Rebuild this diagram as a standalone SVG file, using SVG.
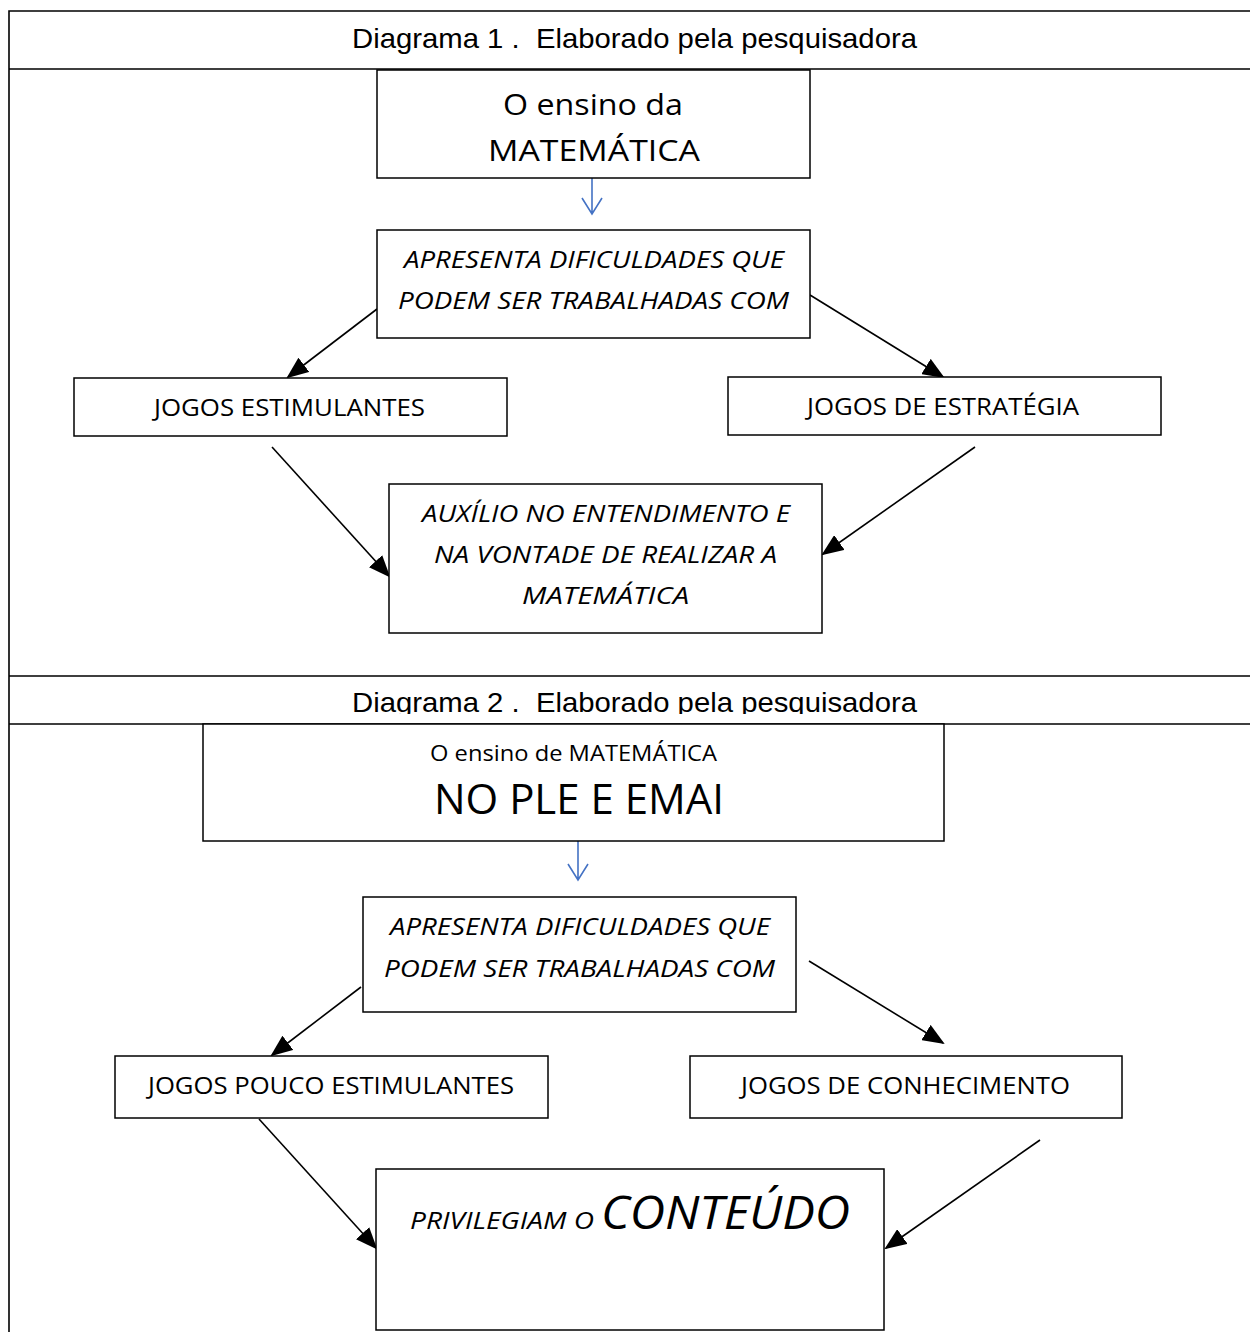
<svg xmlns="http://www.w3.org/2000/svg" width="1250" height="1332" viewBox="0 0 1250 1332">
<style>
.frame{stroke:#000;stroke-width:1.6;fill:none}
.box{fill:#fff;stroke:#000;stroke-width:1.5}
.t{font-family:"Open Sans","Liberation Sans",sans-serif;fill:#000}
.it{font-style:italic}
.title{font-family:"Liberation Sans",Arial,sans-serif;font-size:28px;fill:#000;white-space:pre}
.conn{stroke:#000;stroke-width:1.6;fill:none;marker-end:url(#ah)}
.blue{stroke:#4472C4;stroke-width:1.6;fill:none}
</style>
<defs>
<marker id="ah" markerUnits="userSpaceOnUse" markerWidth="22" markerHeight="18" viewBox="0 0 22 18" refX="20" refY="9" orient="auto">
<path d="M0,0 L22,9 L0,18 Z" fill="#000"/>
</marker>
<clipPath id="clipT2"><rect x="0" y="677" width="1250" height="37"/></clipPath>
</defs>
<rect width="1250" height="1332" fill="#fff"/>
<g id="frame">
<path class="frame" d="M9,1332 V11 H1250 M9,69 H1250 M9,676 H1250 M9,724 H1250"/>
<text class="title" xml:space="preserve" x="352" y="48" textLength="565" lengthAdjust="spacingAndGlyphs">Diagrama 1 .  Elaborado pela pesquisadora</text>
<text class="title" xml:space="preserve" x="352" y="712" textLength="565" lengthAdjust="spacingAndGlyphs" clip-path="url(#clipT2)">Diagrama 2 .  Elaborado pela pesquisadora</text>
</g>
<g id="connectors">
<path class="blue" d="M592,178 V214 M582,198 L592,214 L602,198"/>
<path class="blue" d="M578,841 V880 M568,864 L578,880 L588,864"/>
<line class="conn" x1="377" y1="309" x2="288" y2="377"/>
<line class="conn" x1="810" y1="295" x2="943" y2="377"/>
<line class="conn" x1="272" y1="447" x2="389" y2="576"/>
<line class="conn" x1="975" y1="447" x2="823" y2="554"/>
<line class="conn" x1="361" y1="987" x2="272" y2="1055"/>
<line class="conn" x1="809" y1="961" x2="943" y2="1043"/>
<line class="conn" x1="259" y1="1119" x2="376" y2="1248"/>
<line class="conn" x1="1040" y1="1140" x2="886" y2="1248"/>
</g>
<g id="n1">
<rect class="box" x="377" y="70" width="433" height="108"/>
<text class="t" font-size="30" x="503" y="115" textLength="180" lengthAdjust="spacingAndGlyphs">O ensino da</text>
<text class="t" font-size="30" x="488" y="161" textLength="212" lengthAdjust="spacingAndGlyphs">MATEMÁTICA</text>
</g>
<g id="n2">
<rect class="box" x="377" y="230" width="433" height="108"/>
<text class="t it" font-size="24" x="404" y="268" textLength="380" lengthAdjust="spacingAndGlyphs">APRESENTA DIFICULDADES QUE</text>
<text class="t it" font-size="24" x="398" y="309" textLength="391" lengthAdjust="spacingAndGlyphs">PODEM SER TRABALHADAS COM</text>
</g>
<g id="n3">
<rect class="box" x="74" y="378" width="433" height="58"/>
<text class="t" font-size="23" x="154" y="416" textLength="271" lengthAdjust="spacingAndGlyphs">JOGOS ESTIMULANTES</text>
</g>
<g id="n4">
<rect class="box" x="728" y="377" width="433" height="58"/>
<text class="t" font-size="23" x="807" y="415" textLength="272" lengthAdjust="spacingAndGlyphs">JOGOS DE ESTRATÉGIA</text>
</g>
<g id="n5">
<rect class="box" x="389" y="484" width="433" height="149"/>
<text class="t it" font-size="24" x="422" y="522" textLength="368" lengthAdjust="spacingAndGlyphs">AUXÍLIO NO ENTENDIMENTO E</text>
<text class="t it" font-size="24" x="434" y="563" textLength="343" lengthAdjust="spacingAndGlyphs">NA VONTADE DE REALIZAR A</text>
<text class="t it" font-size="24" x="522" y="604" textLength="167" lengthAdjust="spacingAndGlyphs">MATEMÁTICA</text>
</g>
<g id="n6">
<rect class="box" x="203" y="724" width="741" height="117"/>
<text class="t" font-size="22" x="430" y="761" textLength="287" lengthAdjust="spacingAndGlyphs">O ensino de MATEMÁTICA</text>
<text class="t" font-size="42" x="434" y="814" textLength="290" lengthAdjust="spacingAndGlyphs">NO PLE E EMAI</text>
</g>
<g id="n7">
<rect class="box" x="363" y="897" width="433" height="115"/>
<text class="t it" font-size="24" x="390" y="935" textLength="380" lengthAdjust="spacingAndGlyphs">APRESENTA DIFICULDADES QUE</text>
<text class="t it" font-size="24" x="384" y="977" textLength="391" lengthAdjust="spacingAndGlyphs">PODEM SER TRABALHADAS COM</text>
</g>
<g id="n8">
<rect class="box" x="115" y="1056" width="433" height="62"/>
<text class="t" font-size="23" x="148" y="1094" textLength="366" lengthAdjust="spacingAndGlyphs">JOGOS POUCO ESTIMULANTES</text>
</g>
<g id="n9">
<rect class="box" x="690" y="1056" width="432" height="62"/>
<text class="t" font-size="23" x="741" y="1094" textLength="329" lengthAdjust="spacingAndGlyphs">JOGOS DE CONHECIMENTO</text>
</g>
<g id="n10">
<rect class="box" x="376" y="1169" width="508" height="161"/>
<text class="t it" font-size="24" x="410" y="1229" textLength="184" lengthAdjust="spacingAndGlyphs">PRIVILEGIAM O</text>
<text class="t it" font-size="46" x="601" y="1229" textLength="249" lengthAdjust="spacingAndGlyphs">CONTEÚDO</text>
</g>
</svg>
